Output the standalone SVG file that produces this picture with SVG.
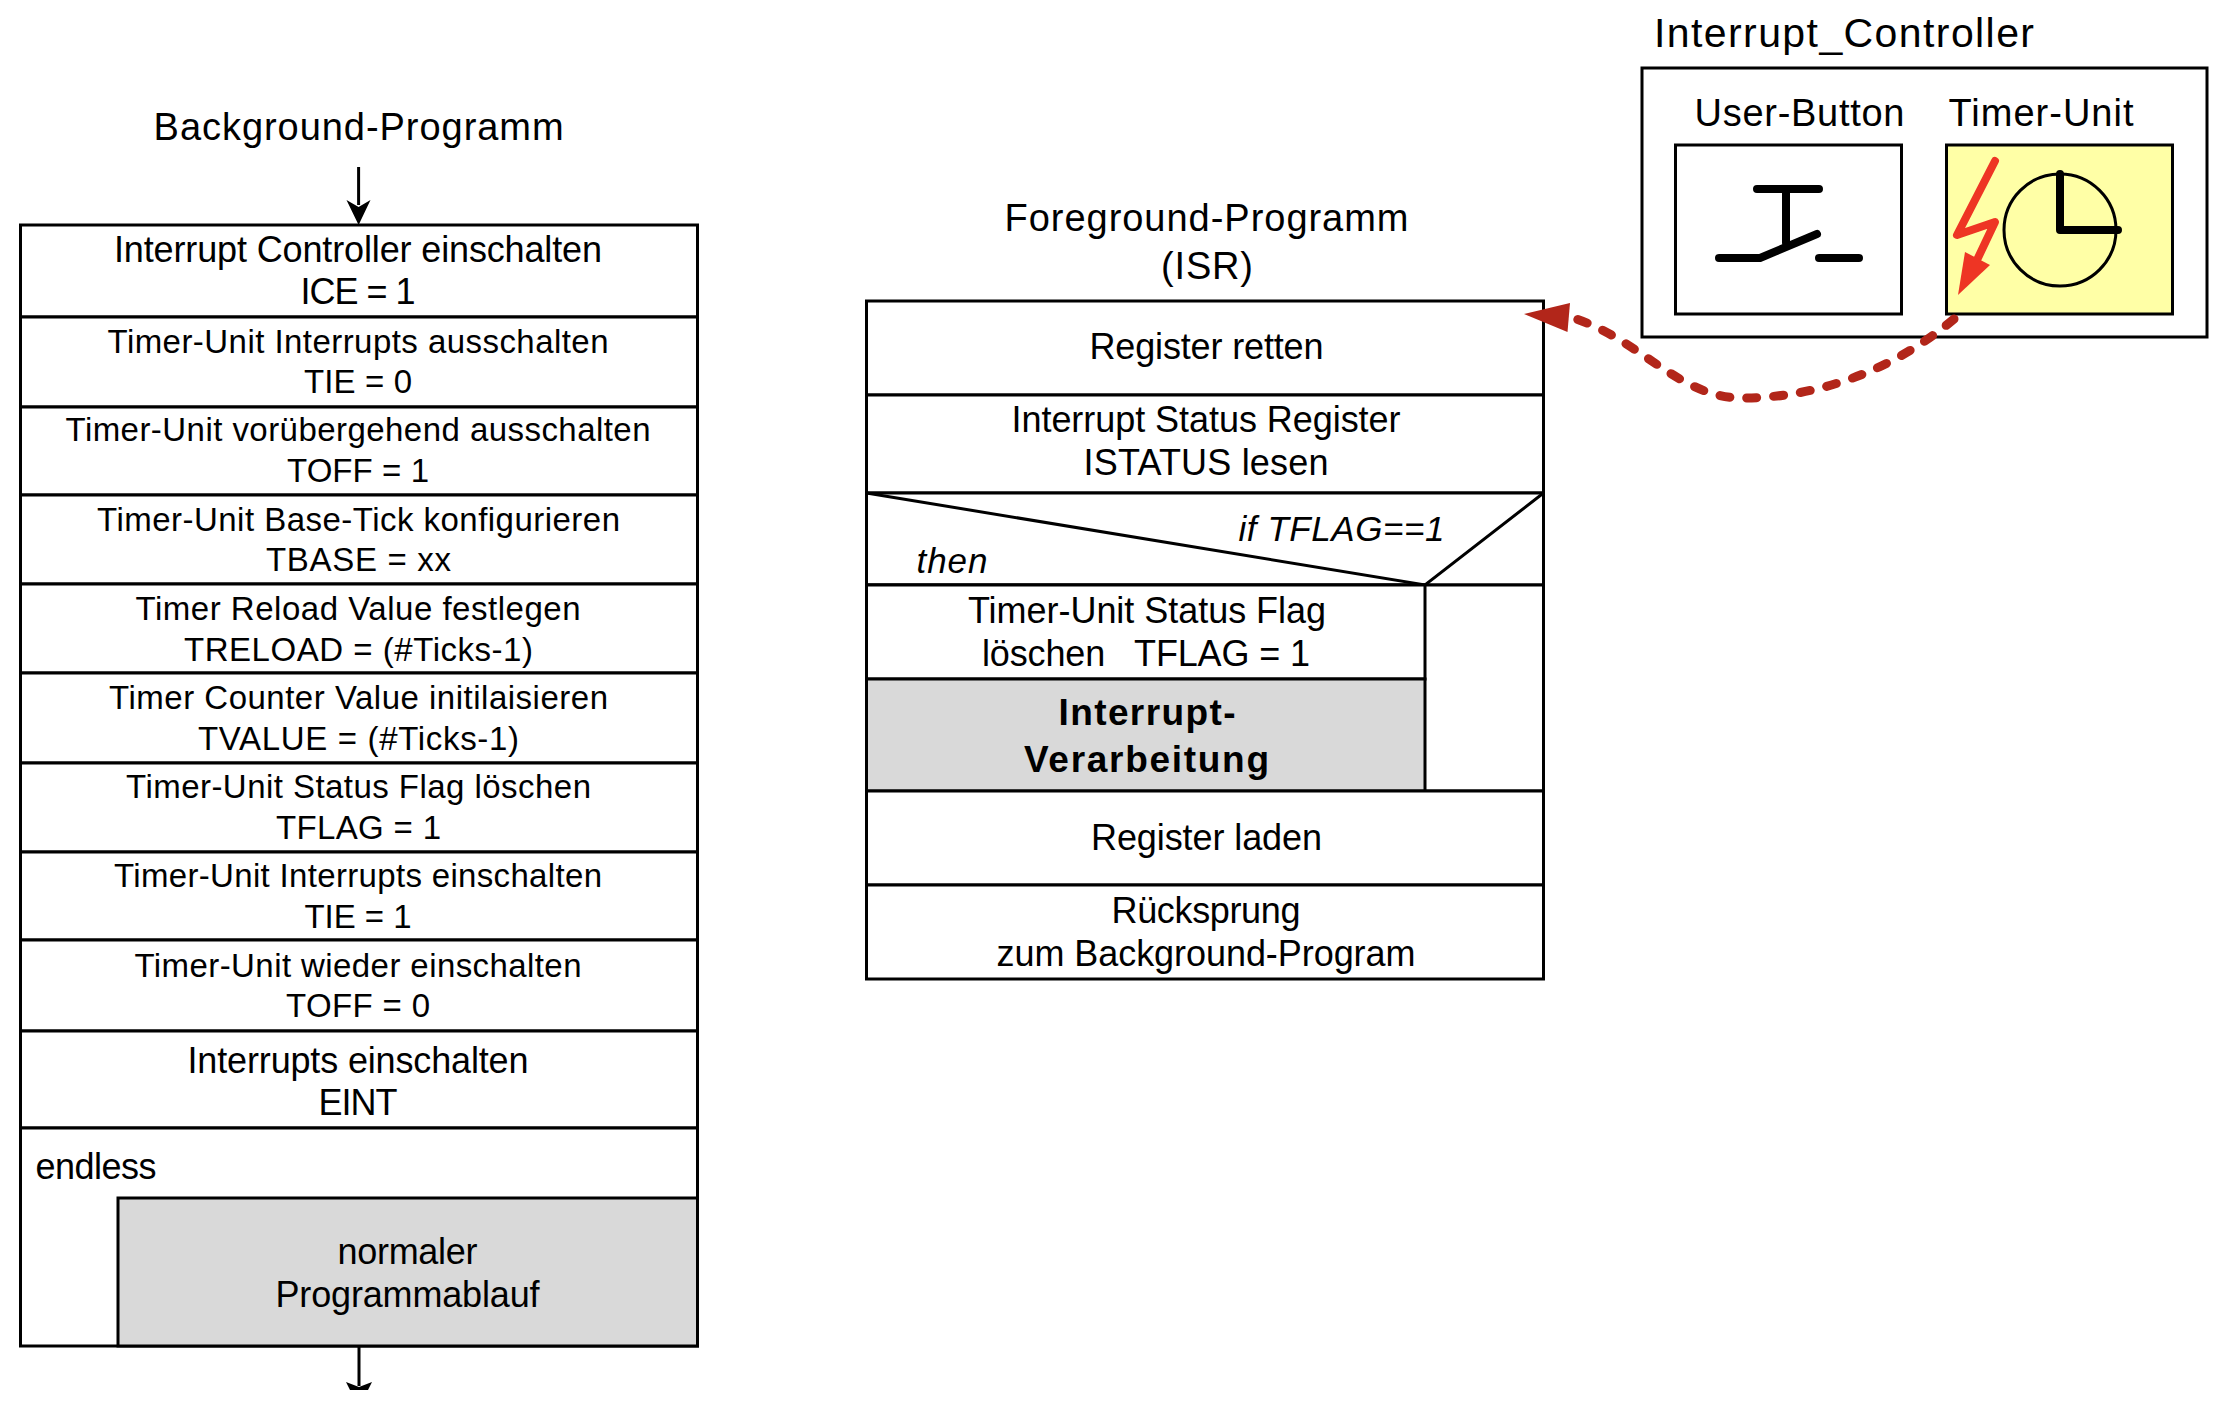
<svg xmlns="http://www.w3.org/2000/svg" width="2216" height="1416" viewBox="0 0 2216 1416">
<style>
text{font-family:"Liberation Sans",Arial,sans-serif;fill:#000;text-anchor:middle}
.t{font-size:36px}.s{font-size:33px}.h{font-size:38px}.b{font-size:37px;font-weight:bold}.i{font-size:35px;font-style:italic}
.box{fill:#fff;stroke:#000;stroke-width:3}
.gray{fill:#d9d9d9;stroke:#000;stroke-width:3}
.ln{fill:none;stroke:#000;stroke-width:3}
.thick{fill:none;stroke:#000;stroke-width:8;stroke-linecap:round;stroke-linejoin:round}
</style>
<rect width="2216" height="1416" fill="#fff"/>

<g id="background-title"><text class="h" x="358.600" y="139.500" textLength="410">Background-Programm</text></g>
<g id="bg1"><rect class="box" x="20.500" y="225" width="677" height="92"/><text class="t" x="358" y="261.500" textLength="488">Interrupt Controller einschalten</text><text class="t" x="358" y="303.500" textLength="115">ICE = 1</text></g>
<g id="bg2"><rect class="box" x="20.500" y="317" width="677" height="90"/><text class="s" x="358" y="352.500" textLength="501">Timer-Unit Interrupts ausschalten</text><text class="s" x="358" y="393" textLength="108">TIE = 0</text></g>
<g id="bg3"><rect class="box" x="20.500" y="407" width="677" height="88"/><text class="s" x="358" y="441" textLength="585">Timer-Unit vorübergehend ausschalten</text><text class="s" x="358" y="482" textLength="142">TOFF = 1</text></g>
<g id="bg4"><rect class="box" x="20.500" y="495" width="677" height="89"/><text class="s" x="358.500" y="531" textLength="523">Timer-Unit Base-Tick konfigurieren</text><text class="s" x="358.500" y="570.500" textLength="185">TBASE = xx</text></g>
<g id="bg5"><rect class="box" x="20.500" y="584" width="677" height="89"/><text class="s" x="358" y="620" textLength="445">Timer Reload Value festlegen</text><text class="s" x="358.500" y="661" textLength="349">TRELOAD = (#Ticks-1)</text></g>
<g id="bg6"><rect class="box" x="20.500" y="673" width="677" height="90"/><text class="s" x="358.500" y="709" textLength="499">Timer Counter Value initilaisieren</text><text class="s" x="358.500" y="750" textLength="321">TVALUE = (#Ticks-1)</text></g>
<g id="bg7"><rect class="box" x="20.500" y="763" width="677" height="89"/><text class="s" x="358.500" y="798" textLength="465">Timer-Unit Status Flag löschen</text><text class="s" x="358.500" y="838.500" textLength="165">TFLAG = 1</text></g>
<g id="bg8"><rect class="box" x="20.500" y="852" width="677" height="88"/><text class="s" x="358" y="887" textLength="488">Timer-Unit Interrupts einschalten</text><text class="s" x="358" y="927.500" textLength="107">TIE = 1</text></g>
<g id="bg9"><rect class="box" x="20.500" y="940" width="677" height="91"/><text class="s" x="358" y="976.500" textLength="447">Timer-Unit wieder einschalten</text><text class="s" x="358" y="1017" textLength="144">TOFF = 0</text></g>
<g id="bg10"><rect class="box" x="20.500" y="1031" width="677" height="97"/><text class="t" x="358" y="1072.500" textLength="341">Interrupts einschalten</text><text class="t" x="358" y="1114.500" textLength="79">EINT</text></g>
<g id="bg11"><rect class="box" x="20.500" y="1128" width="677" height="218"/><text class="t" x="96" y="1179" textLength="121">endless</text><rect class="gray" x="118" y="1198" width="579.500" height="148"/><text class="t" x="407.500" y="1264" textLength="140">normaler</text><text class="t" x="407.500" y="1307" textLength="264">Programmablauf</text></g>

<g id="foreground-title"><text class="h" x="1206.500" y="230.500" textLength="404">Foreground-Programm</text><text class="h" x="1207" y="278.500" textLength="92">(ISR)</text></g>
<g id="fg1"><rect class="box" x="866.500" y="301" width="677" height="94"/><text class="t" x="1206.500" y="358.500" textLength="234">Register retten</text></g>
<g id="fg2"><rect class="box" x="866.500" y="395" width="677" height="98"/><text class="t" x="1206" y="431.500" textLength="389">Interrupt Status Register</text><text class="t" x="1206" y="474.500" textLength="245">ISTATUS lesen</text></g>
<g id="fg3"><rect class="box" x="866.500" y="493" width="677" height="92"/><path class="ln" d="M866.500 493L1425 585L1543.500 493"/><text class="i" x="1341.500" y="540.500" textLength="206">if TFLAG==1</text><text class="i" x="952" y="573" textLength="71">then</text></g>
<g id="fg4"><rect class="box" x="866.500" y="585" width="677" height="206"/><rect class="box" x="866.500" y="585" width="558.500" height="94"/><text class="t" x="1147" y="622.500" textLength="358">Timer-Unit Status Flag</text><text class="t" x="1146" y="665.500" textLength="328" xml:space="preserve">löschen   TFLAG = 1</text></g>
<g id="fg5"><rect class="gray" x="866.500" y="679" width="558.500" height="112"/><text class="b" x="1147" y="724.500" textLength="177">Interrupt-</text><text class="b" x="1146.500" y="772" textLength="245">Verarbeitung</text></g>
<g id="fg6"><rect class="box" x="866.500" y="791" width="677" height="94"/><text class="t" x="1206.500" y="849.500" textLength="231">Register laden</text></g>
<g id="fg7"><rect class="box" x="866.500" y="885" width="677" height="94"/><text class="t" x="1206" y="923" textLength="189">Rücksprung</text><text class="t" x="1206" y="965.500" textLength="419">zum Background-Program</text></g>

<g id="interrupt-controller"><text class="h" x="1844" y="46.500" textLength="380" style="font-size:41px">Interrupt_Controller</text><rect class="box" x="1642" y="68" width="565" height="269"/></g>
<g id="user-button"><text class="h" x="1799.500" y="125.500" textLength="210">User-Button</text><rect class="box" x="1675.500" y="145" width="226" height="169"/><path class="thick" d="M1757 189H1819M1786 189V243M1719 258H1760L1817 234M1819 258H1859"/></g>
<g id="timer-unit"><text class="h" x="2041" y="125.500" textLength="185">Timer-Unit</text><rect x="1946.500" y="145" width="226" height="169" fill="#ffffa6" stroke="#000" stroke-width="3"/><circle cx="2060" cy="230" r="56" fill="none" stroke="#000" stroke-width="3"/><path class="thick" d="M2060 174V230H2118"/><path d="M1995 161L1957 235L1995 222L1977 260" fill="none" stroke="#ee3524" stroke-width="8" stroke-linecap="round" stroke-linejoin="round"/><path d="M1965 252L1990 265L1958 295Z" fill="#ee3524"/></g>

<g id="connectors">
<path class="ln" d="M358.600 167V205"/>
<path d="M346.500 200L358.600 207L370.500 200L358.600 225Z" fill="#000"/>
<path class="ln" d="M359 1347V1386"/>
<path d="M346 1382L359 1387L372 1382L368 1390H350Z" fill="#000"/>
<path d="M1954 319C1880 381 1800 398 1742 398C1680 398 1640 340 1576 319" fill="none" stroke="#b2261a" stroke-width="9" stroke-dasharray="10 17" stroke-linecap="round"/>
<path d="M1524 314L1570 303L1567.500 332Z" fill="#b2261a"/>
</g>
</svg>
